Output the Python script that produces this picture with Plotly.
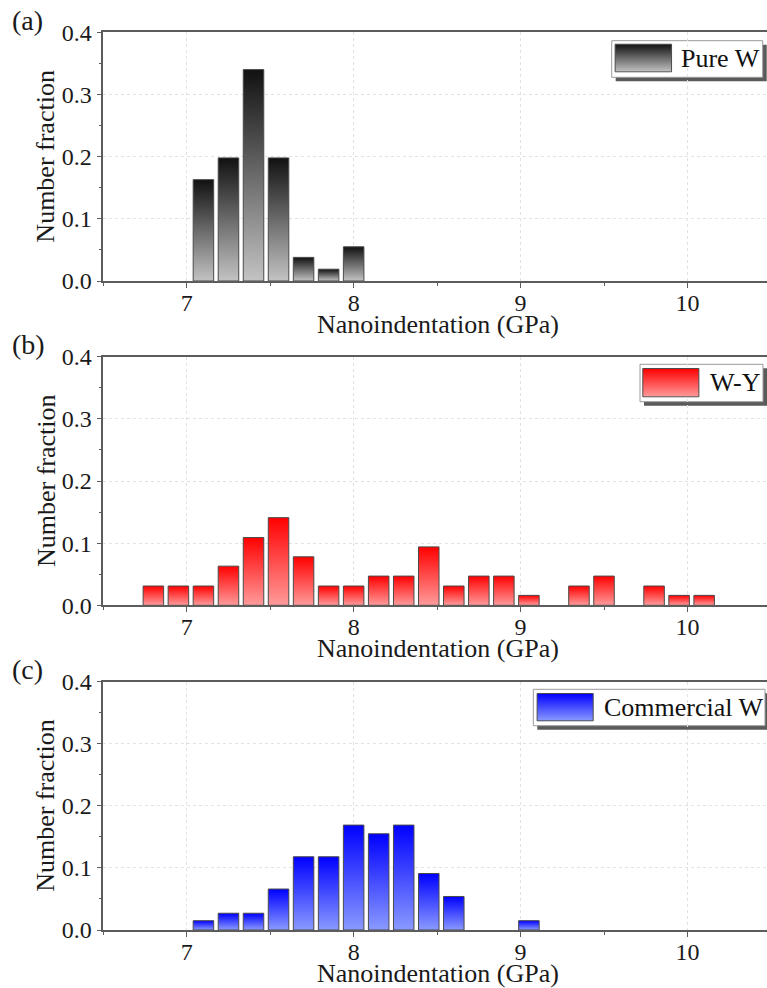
import plotly.graph_objects as go

# ---------------- data ----------------
pure_w_gpa = [7.1, 7.25, 7.4, 7.55, 7.7, 7.85, 8.0]
pure_w_frac = [0.163, 0.198, 0.340, 0.198, 0.038, 0.019, 0.055]

wy_gpa = [6.8, 6.95, 7.1, 7.25, 7.4, 7.55, 7.7, 7.85, 8.0, 8.15, 8.3, 8.45,
          8.6, 8.75, 8.9, 9.05, 9.2, 9.35, 9.5, 9.65, 9.8, 9.95, 10.1]
wy_frac = [0.031, 0.031, 0.031, 0.063, 0.109, 0.141, 0.078, 0.031, 0.031, 0.047, 0.047, 0.094,
           0.031, 0.047, 0.047, 0.016, 0.0, 0.031, 0.047, 0.0, 0.031, 0.016, 0.016]

comm_gpa = [7.1, 7.25, 7.4, 7.55, 7.7, 7.85, 8.0, 8.15, 8.3, 8.45, 8.6, 8.75, 8.9, 9.05]
comm_frac = [0.015, 0.027, 0.027, 0.066, 0.118, 0.118, 0.169, 0.155, 0.169, 0.091, 0.054, 0.0, 0.0, 0.015]

series_names = ["Pure W", "W-Y", "Commercial W"]
panel_labels = ["(a)", "(b)", "(c)"]
x_ticks = [7, 8, 9, 10]
y_ticks = [0.0, 0.1, 0.2, 0.3, 0.4]
bin_width = 0.15
x_title = "Nanoindentation (GPa)"
y_title = "Number fraction"

# ---------------- style ----------------
W, H = 767, 988
FONT = "Liberation Serif"
BAR_FRAC = 0.82
gradients = [("#c3c3c3", "#111111"), ("#ff9b9b", "#ff0000"), ("#8a9aff", "#0000ff")]
AX_COL = "#5c5c5c"
GRID_COL = "#e2e2e2"


def px_x(p):
    return p / W


def px_y(p):
    return 1 - p / H


# panel plot boxes in pixels (top, bottom)
panels_px = [(32.3, 281.0), (356.7, 605.3), (681.7, 930.0)]
plot_left = 103.3
x_range = [6.5, 6.5 + (W - plot_left) / 166.9]

# legend boxes: box (l, t, r, b), swatch (l, t, r, b), text-left
legend_px = [
    ((611.7, 40.7, 762.7, 77.3), (614.0, 43.3, 672.7, 72.7), 679.0),
    ((640.0, 364.3, 763.0, 401.7), (641.7, 367.7, 700.0, 397.7), 708.3),
    ((533.3, 689.3, 765.0, 725.7), (536.0, 692.7, 594.3, 721.7), 601.7),
]

data = [(pure_w_gpa, pure_w_frac), (wy_gpa, wy_frac), (comm_gpa, comm_frac)]

fig = go.Figure()
layout = dict(
    width=W, height=H, autosize=False,
    margin=dict(l=0, r=0, t=0, b=0, pad=0),
    paper_bgcolor="white", plot_bgcolor="rgba(0,0,0,0)",
    showlegend=False,
    font=dict(family=FONT, color="#1a1a1a", size=24),
)
shapes = []
annotations = []

for i, ((gpa, frac), name, (light, dark), (top, bot), lab) in enumerate(
        zip(data, series_names, gradients, panels_px, panel_labels)):
    n = i + 1
    xa = "x" if n == 1 else f"x{n}"
    ya = "y" if n == 1 else f"y{n}"
    half = bin_width * BAR_FRAC / 2
    for c, v in zip(gpa, frac):
        if v <= 0:
            continue
        fig.add_trace(go.Scatter(
            x=[c - half, c + half, c + half, c - half, c - half],
            y=[0, 0, v, v, 0],
            mode="lines", fill="toself",
            fillgradient=dict(type="vertical", colorscale=[[0, light], [1, dark]]),
            line=dict(color="#4a4a4a", width=1),
            xaxis=xa, yaxis=ya, name=name, showlegend=False, hoverinfo="skip",
        ))
    ax_common = dict(automargin=False, showline=True, linecolor=AX_COL, linewidth=1.5,
                     ticks="outside", tickcolor=AX_COL, tickwidth=1.2, ticklen=5,
                     showgrid=True, gridcolor=GRID_COL, griddash="dot", gridwidth=1,
                     zeroline=False, tickfont=dict(family=FONT, size=24, color="#1a1a1a"))
    layout["xaxis" if n == 1 else f"xaxis{n}"] = dict(
        ax_common, domain=[px_x(plot_left), 1.0], range=x_range, anchor=ya,
        tickvals=x_ticks, mirror=True, ticklabelstandoff=-6,
        minor=dict(dtick=0.5, tick0=6.5, ticks="outside", ticklen=3, tickcolor=AX_COL, showgrid=False),
    )
    layout["yaxis" if n == 1 else f"yaxis{n}"] = dict(
        ax_common, domain=[px_y(bot), px_y(top)], range=[0, 0.4], anchor=xa,
        tickvals=y_ticks, tickformat=".1f", mirror=False,
        minor=dict(dtick=0.05, ticks="outside", ticklen=3, tickcolor=AX_COL, showgrid=False),
    )

    # axis titles & panel label
    annotations.append(dict(text=y_title, textangle=-90, xref="paper", yref="paper",
                            x=px_x(46), y=px_y((top + bot) / 2), showarrow=False,
                            xanchor="center", yanchor="middle", font=dict(size=26)))
    annotations.append(dict(text=x_title, xref="paper", yref="paper",
                            x=px_x(438), y=px_y(bot + 43), showarrow=False,
                            xanchor="center", yanchor="middle", font=dict(size=26)))
    annotations.append(dict(text=lab, xref="paper", yref="paper",
                            x=px_x(10), y=px_y(top - 12), showarrow=False,
                            xanchor="left", yanchor="middle", font=dict(size=28)))

    # custom legend: shadow, box, gradient swatch (inset axes), text
    (bl, bt, br, bb), (sl, st, sr, sb), tx = legend_px[i]
    shapes.append(dict(type="rect", xref="paper", yref="paper", layer="below",
                       x0=px_x(bl + 4), x1=px_x(min(br + 4, W)), y0=px_y(bb + 4), y1=px_y(bt + 4),
                       fillcolor="#5a5a5a", line=dict(width=0)))
    shapes.append(dict(type="rect", xref="paper", yref="paper", layer="below",
                       x0=px_x(bl), x1=px_x(br), y0=px_y(bb), y1=px_y(bt),
                       fillcolor="white", line=dict(color="#9a9a9a", width=1)))
    m = n + 3
    layout[f"xaxis{m}"] = dict(domain=[px_x(sl), px_x(sr)], range=[-0.02, 1.02], visible=False,
                               anchor=f"y{m}", fixedrange=True)
    layout[f"yaxis{m}"] = dict(domain=[px_y(sb), px_y(st)], range=[-0.03, 1.03], visible=False,
                               anchor=f"x{m}", fixedrange=True)
    fig.add_trace(go.Scatter(
        x=[0, 1, 1, 0, 0], y=[0, 0, 1, 1, 0], mode="lines", fill="toself",
        fillgradient=dict(type="vertical", colorscale=[[0, light], [1, dark]]),
        line=dict(color="#4a4a4a", width=1), xaxis=f"x{m}", yaxis=f"y{m}",
        showlegend=False, hoverinfo="skip",
    ))
    annotations.append(dict(text=name, xref="paper", yref="paper",
                            x=px_x(tx), y=px_y((bt + bb) / 2), showarrow=False,
                            xanchor="left", yanchor="middle", font=dict(size=26, color="#111111")))

layout["shapes"] = shapes
layout["annotations"] = annotations
fig.update_layout(**layout)
fig.write_html("out.html")
